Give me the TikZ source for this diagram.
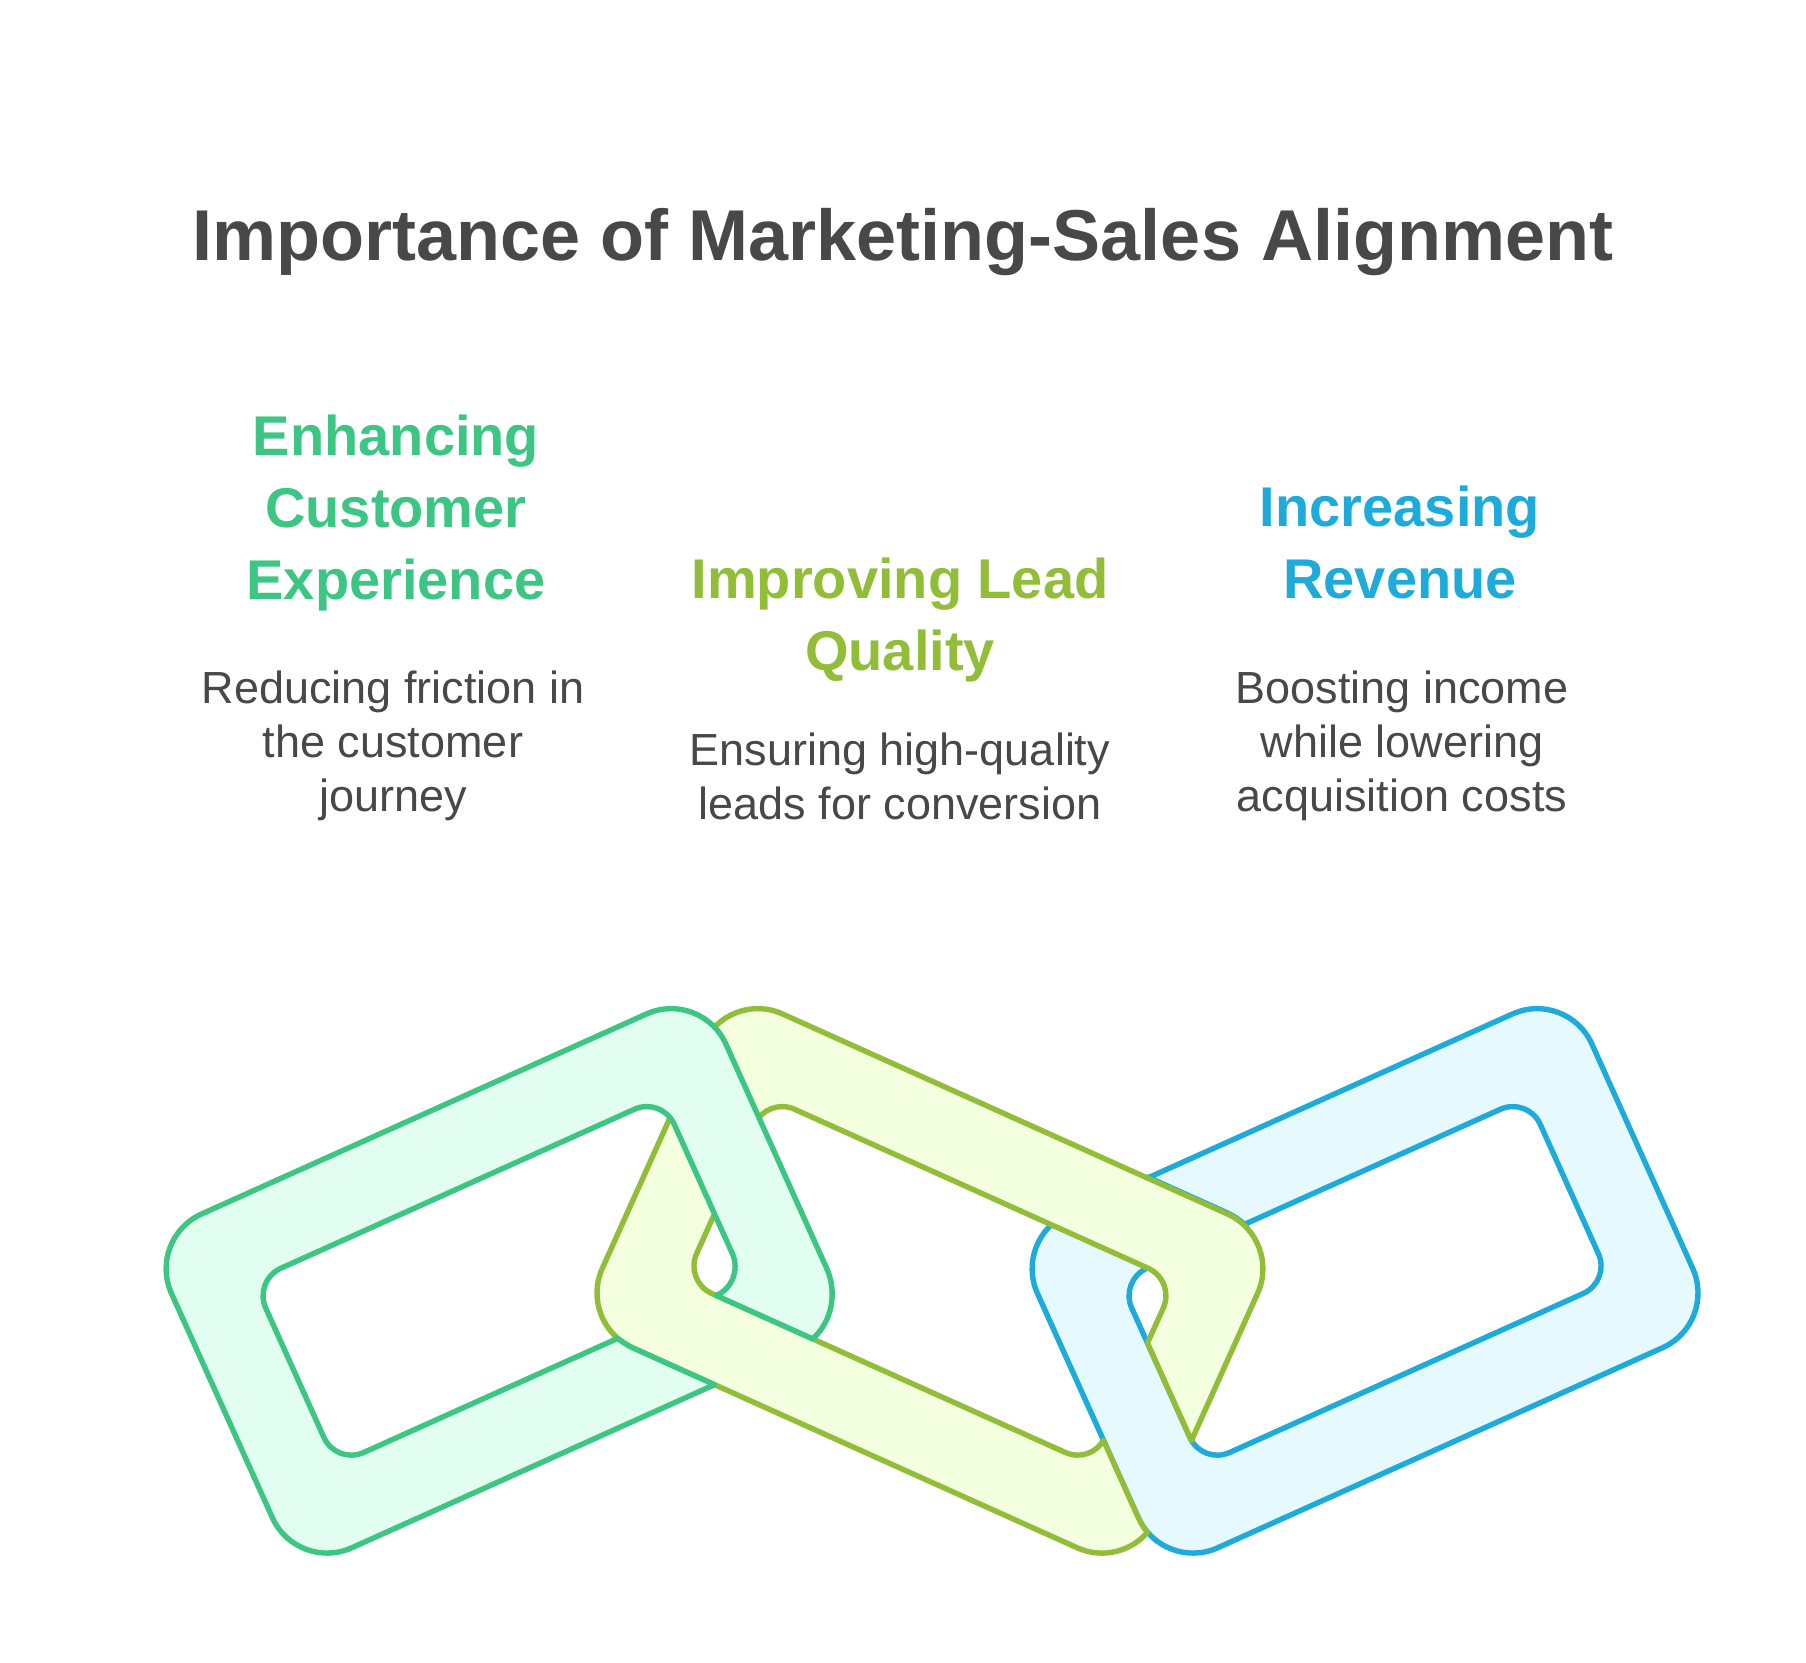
\documentclass[tikz,border=0pt]{standalone}
\usepackage{fontspec}
\setmainfont{Liberation Sans}
\definecolor{txtdark}{HTML}{484848}
\definecolor{gstroke}{HTML}{3CC583}
\definecolor{gfill}{HTML}{E2FEF0}
\definecolor{ostroke}{HTML}{92BD39}
\definecolor{ofill}{HTML}{F3FFDE}
\definecolor{bstroke}{HTML}{1EABDA}
\definecolor{bfill}{HTML}{E6F9FF}
\tikzset{
  linkshape/.style={line width=5.4pt,line join=round,line cap=round},
  titletext/.style={font=\fontsize{72}{72}\bfseries\selectfont,text=txtdark,anchor=base,inner sep=0pt},
  headtext/.style={font=\fontsize{56}{72}\bfseries\selectfont,anchor=base,align=center,inner sep=0pt},
  bodytext/.style={font=\fontsize{45}{54}\selectfont,text=txtdark,anchor=base,align=center,inner sep=0pt}
}
\begin{document}
\begin{tikzpicture}[x=1pt,y=-1pt]
\useasboundingbox (0,0) rectangle (1806,1662);
\fill[white] (0,0) rectangle (1806,1662);
% blue link
\path[linkshape,draw=bstroke,fill=bfill,even odd rule,rounded corners=60pt]
  (1012.8,1238.6) -- (1567.3,989.3) -- (1717.3,1323.1) -- (1162.9,1572.4) -- cycle
  [rounded corners=30pt] (1119.4,1280.6) -- (1527.9,1096.9) -- (1610.7,1281.1) -- (1202.2,1464.8) -- cycle;
\path[linkshape,draw=bstroke] (1147.5,1177) -- (1227.5,1213) .. controls (1234,1216) and (1240,1220) .. (1246,1226);
% olive link
\path[linkshape,draw=ostroke,fill=ofill]
  (1191.4,1440.6) [rounded corners=60pt] -- (1282.2,1238.6) -- (727.7,989.3) -- (577.7,1323.1) [sharp corners] -- (1077.3,1547.8)
  .. controls (1101.6,1558.7) and (1130.2,1552.4) .. (1147.5,1532.2)
  .. controls (1143.7,1527.8) and (1140.7,1523) .. (1138.3,1517.7) -- (1103.5,1440.3)
  .. controls (1095.7,1453.5) and (1079.4,1458.8) .. (1065.4,1452.5)
  [rounded corners=30pt] -- (684.3,1281.1) -- (767.1,1096.9) -- (1175.6,1280.6) [sharp corners] -- (1147.5,1343) -- cycle;
% green link
\path[linkshape,draw=gstroke,fill=gfill]
  (714.5,1384.7) [rounded corners=60pt] -- (297,1572.4) -- (146.8,1238.6) -- (701.3,989.3) [sharp corners] -- (826.7,1268.4)
  .. controls (837.4,1292.3) and (832.3,1321.4) .. (812.6,1338.8)
  -- (716,1295.4) .. controls (732,1289.2) and (739.5,1269.4) .. (732.4,1253.7)
  [rounded corners=30pt] -- (661.9,1096.9) -- (253.4,1280.6) -- (336.2,1464.8) [sharp corners] -- (617.5,1338.4)
  .. controls (622,1341.6) and (627,1345) .. (632.4,1347.7) -- cycle;
% texts
\node[titletext] (title) at (903,260) {Importance of Marketing-Sales Alignment};
\node[headtext,text=gstroke] (h1) at (396,599.5) {Enhancing\\Customer\\Experience};
\node[bodytext] (b1) at (393,811) {Reducing friction in\\the customer\\journey};
\node[headtext,text=ostroke] (h2) at (900,670.5) {Improving Lead\\Quality};
\node[bodytext] (b2) at (900,819) {Ensuring high-quality\\leads for conversion};
\node[headtext,text=bstroke] (h3) at (1400,598.5) {Increasing\\Revenue};
\node[bodytext] (b3) at (1402,811) {Boosting income\\while lowering\\acquisition costs};
\end{tikzpicture}
\end{document}
